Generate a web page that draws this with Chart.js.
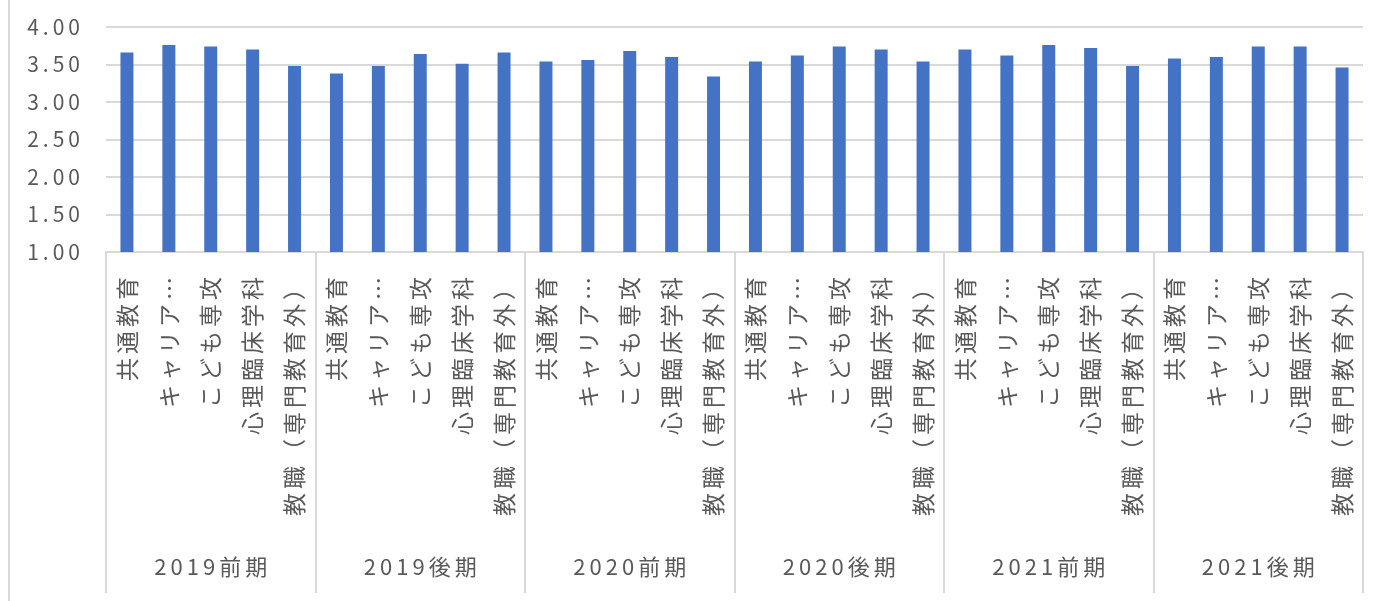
<!DOCTYPE html>
<html lang="ja">
<head>
<meta charset="utf-8">
<title>授業評価 平均値の推移</title>
<script src="https://cdn.jsdelivr.net/npm/chart.js@4.4.1/dist/chart.umd.min.js"></script>
<style>
  html, body { margin: 0; padding: 0; background: #ffffff; }
  #wrap { position: relative; width: 1386px; height: 601px; }
  #edge { position: absolute; left: 8px; top: 0; width: 2px; height: 601px; background: #d9d9d9; }
  canvas { position: absolute; left: 0; top: 0; }
</style>
</head>
<body>
<div id="wrap">
  <div id="edge"></div>
  <canvas id="chart" width="1386" height="601"></canvas>
</div>
<script>
// Semesters (outer axis groups) and subject areas (inner categories)
const periods = ['2019前期', '2019後期', '2020前期', '2020後期', '2021前期', '2021後期'];
const subjects = ['共通教育', 'キャリア…', 'こども専攻', '心理臨床学科', '教職（専門教育外）'];

// Mean scores per subject area, one array per semester
const scores2019First  = [3.66, 3.76, 3.74, 3.70, 3.48];
const scores2019Second = [3.38, 3.48, 3.64, 3.51, 3.66];
const scores2020First  = [3.54, 3.56, 3.68, 3.60, 3.34];
const scores2020Second = [3.54, 3.62, 3.74, 3.70, 3.54];
const scores2021First  = [3.70, 3.62, 3.76, 3.72, 3.48];
const scores2021Second = [3.58, 3.60, 3.74, 3.74, 3.46];

// Value axis range and tick step
const yMin = 1.0;
const yMax = 4.0;
const yStep = 0.5;

const allScores = [
  scores2019First, scores2019Second,
  scores2020First, scores2020Second,
  scores2021First, scores2021Second
];
const labels = periods.flatMap(() => subjects);
const values = allScores.flat();

const FONT = '"Noto Sans CJK JP", "Noto Sans", sans-serif';
const TEXT = '#595959';
const LINE = '#d9d9d9';

// Wider glyph spacing for all canvas text
const spacingPlugin = {
  id: 'spacing',
  beforeDraw(chart) { chart.ctx.letterSpacing = '4px'; }
};

// Outer category level: semester names and separators below the axis
const groupAxisPlugin = {
  id: 'groupAxis',
  afterDraw(chart) {
    const x = chart.scales.x;
    const ctx = chart.ctx;
    const per = subjects.length;
    const step = x.getPixelForValue(1) - x.getPixelForValue(0);
    ctx.save();
    ctx.strokeStyle = LINE;
    ctx.lineWidth = 2;
    for (let g = 0; g <= periods.length; g++) {
      const px = Math.round(x.getPixelForValue(g * per) - step / 2);
      ctx.beginPath();
      ctx.moveTo(px, x.top);
      ctx.lineTo(px, x.bottom);
      ctx.stroke();
    }
    ctx.fillStyle = TEXT;
    ctx.font = '22px ' + FONT;
    ctx.letterSpacing = '4px';
    ctx.textAlign = 'center';
    ctx.textBaseline = 'middle';
    periods.forEach((p, g) => {
      const cx = (x.getPixelForValue(g * per) + x.getPixelForValue(g * per + per - 1)) / 2;
      ctx.fillText(p, cx + 2, x.bottom - 26);
    });
    ctx.restore();
  }
};

new Chart(document.getElementById('chart'), {
  type: 'bar',
  data: {
    labels: labels,
    datasets: [{
      data: values,
      backgroundColor: '#4472c4',
      borderWidth: 0,
      categoryPercentage: 1.0,
      barPercentage: 0.31
    }]
  },
  options: {
    responsive: false,
    animation: false,
    devicePixelRatio: 1,
    layout: { autoPadding: false, padding: { left: 0, right: 23, top: 27, bottom: 8 } },
    plugins: {
      legend: { display: false },
      tooltip: { enabled: false }
    },
    scales: {
      x: {
        grid: { display: false, drawTicks: false },
        border: { display: true, color: LINE, width: 2 },
        ticks: {
          autoSkip: false,
          minRotation: 90,
          maxRotation: 90,
          padding: 21,
          color: TEXT,
          font: { family: FONT, size: 23 }
        },
        afterFit(scale) {
          scale.height = 341;
          scale.paddingTop = 0;
          scale.paddingBottom = 0;
          scale.paddingLeft = 0;
          scale.paddingRight = 0;
        }
      },
      y: {
        min: yMin,
        max: yMax,
        grid: { color: LINE, lineWidth: 2, drawTicks: false },
        border: { display: false },
        ticks: {
          stepSize: yStep,
          padding: 22,
          color: TEXT,
          font: { family: FONT, size: 21 },
          callback: v => Number(v).toFixed(2)
        },
        afterFit(scale) {
          scale.width = 106;
          scale.paddingTop = 0;
          scale.paddingBottom = 0;
        }
      }
    }
  },
  plugins: [spacingPlugin, groupAxisPlugin]
});
</script>
</body>
</html>
